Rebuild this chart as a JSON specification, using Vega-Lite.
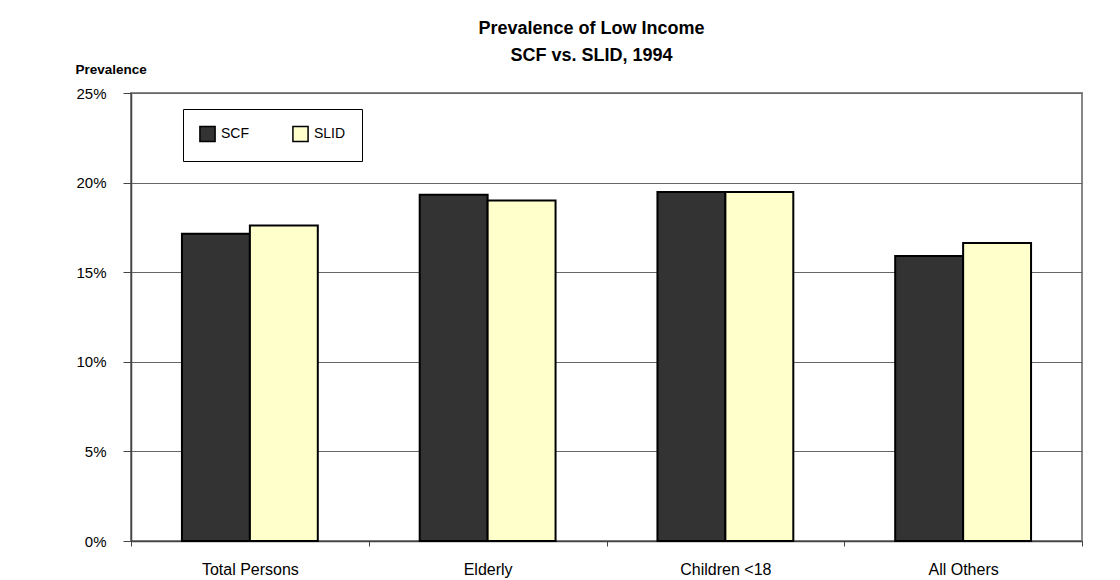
{
  "$schema": "https://vega.github.io/schema/vega-lite/v6.json",
  "autosize": {"type": "none"},
  "padding": {"left": 131, "top": 93, "right": 38, "bottom": 39},
  "width": 951,
  "height": 448,
  "background": "white",
  "title": {
    "text": ["Prevalence of Low Income", "SCF vs. SLID, 1994"],
    "font": "Liberation Sans",
    "fontSize": 18,
    "fontWeight": "bold",
    "color": "#000000",
    "anchor": "middle",
    "lineHeight": 27,
    "offset": -3,
    "dx": -15
  },
  "data": {
    "values": [
      {"group": "Total Persons", "series": "SCF", "value": 0.1715},
      {"group": "Total Persons", "series": "SLID", "value": 0.1761},
      {"group": "Elderly", "series": "SCF", "value": 0.1932},
      {"group": "Elderly", "series": "SLID", "value": 0.19},
      {"group": "Children <18", "series": "SCF", "value": 0.1947},
      {"group": "Children <18", "series": "SLID", "value": 0.1947},
      {"group": "All Others", "series": "SCF", "value": 0.159},
      {"group": "All Others", "series": "SLID", "value": 0.1663}
    ]
  },
  "mark": {"type": "bar", "stroke": "#000000", "strokeWidth": 2},
  "encoding": {
    "x": {
      "field": "group",
      "type": "nominal",
      "sort": ["Total Persons", "Elderly", "Children <18", "All Others"],
      "scale": {"paddingInner": 0, "paddingOuter": 0},
      "axis": {
        "title": null,
        "labelAngle": 0,
        "labelFont": "Liberation Sans",
        "labelFontSize": 16,
        "labelColor": "#000000",
        "labelPadding": 15,
        "tickSize": 5,
        "tickBand": "extent",
        "tickColor": "#444444",
        "domainColor": "#444444",
        "domainWidth": 1.5,
        "grid": false
      }
    },
    "xOffset": {
      "field": "series",
      "type": "nominal",
      "sort": ["SCF", "SLID"],
      "scale": {"paddingInner": 0, "paddingOuter": 0.75}
    },
    "y": {
      "field": "value",
      "type": "quantitative",
      "scale": {"domain": [0, 0.25], "nice": false},
      "axis": {
        "values": [0, 0.05, 0.1, 0.15, 0.2, 0.25],
        "format": ".0%",
        "title": "Prevalence",
        "titleAngle": 0,
        "titleAlign": "left",
        "titleBaseline": "alphabetic",
        "titleX": -56,
        "titleY": -20,
        "titleFont": "Liberation Sans",
        "titleFontSize": 13.5,
        "titleFontWeight": "bold",
        "titleColor": "#000000",
        "labelFont": "Liberation Sans",
        "labelFontSize": 15,
        "labelColor": "#000000",
        "labelPadding": 17,
        "tickSize": 8,
        "tickColor": "#444444",
        "domainColor": "#444444",
        "domainWidth": 1.5,
        "grid": true,
        "gridColor": "#666666",
        "gridWidth": 1
      }
    },
    "fill": {
      "field": "series",
      "type": "nominal",
      "sort": ["SCF", "SLID"],
      "scale": {"domain": ["SCF", "SLID"], "range": ["#333333", "#FFFFCC"]},
      "legend": {
        "title": null,
        "orient": "none",
        "legendX": 52,
        "legendY": 16,
        "direction": "horizontal",
        "strokeColor": "#000000",
        "fillColor": "#ffffff",
        "padding": 16,
        "symbolType": "square",
        "symbolSize": 230,
        "symbolStrokeColor": "#000000",
        "symbolStrokeWidth": 1.5,
        "labelFont": "Liberation Sans",
        "labelFontSize": 14,
        "labelColor": "#000000",
        "columnPadding": 40,
        "labelOffset": 5
      }
    }
  },
  "config": {
    "view": {"stroke": "#888888", "strokeWidth": 2},
    "font": "Liberation Sans"
  }
}
